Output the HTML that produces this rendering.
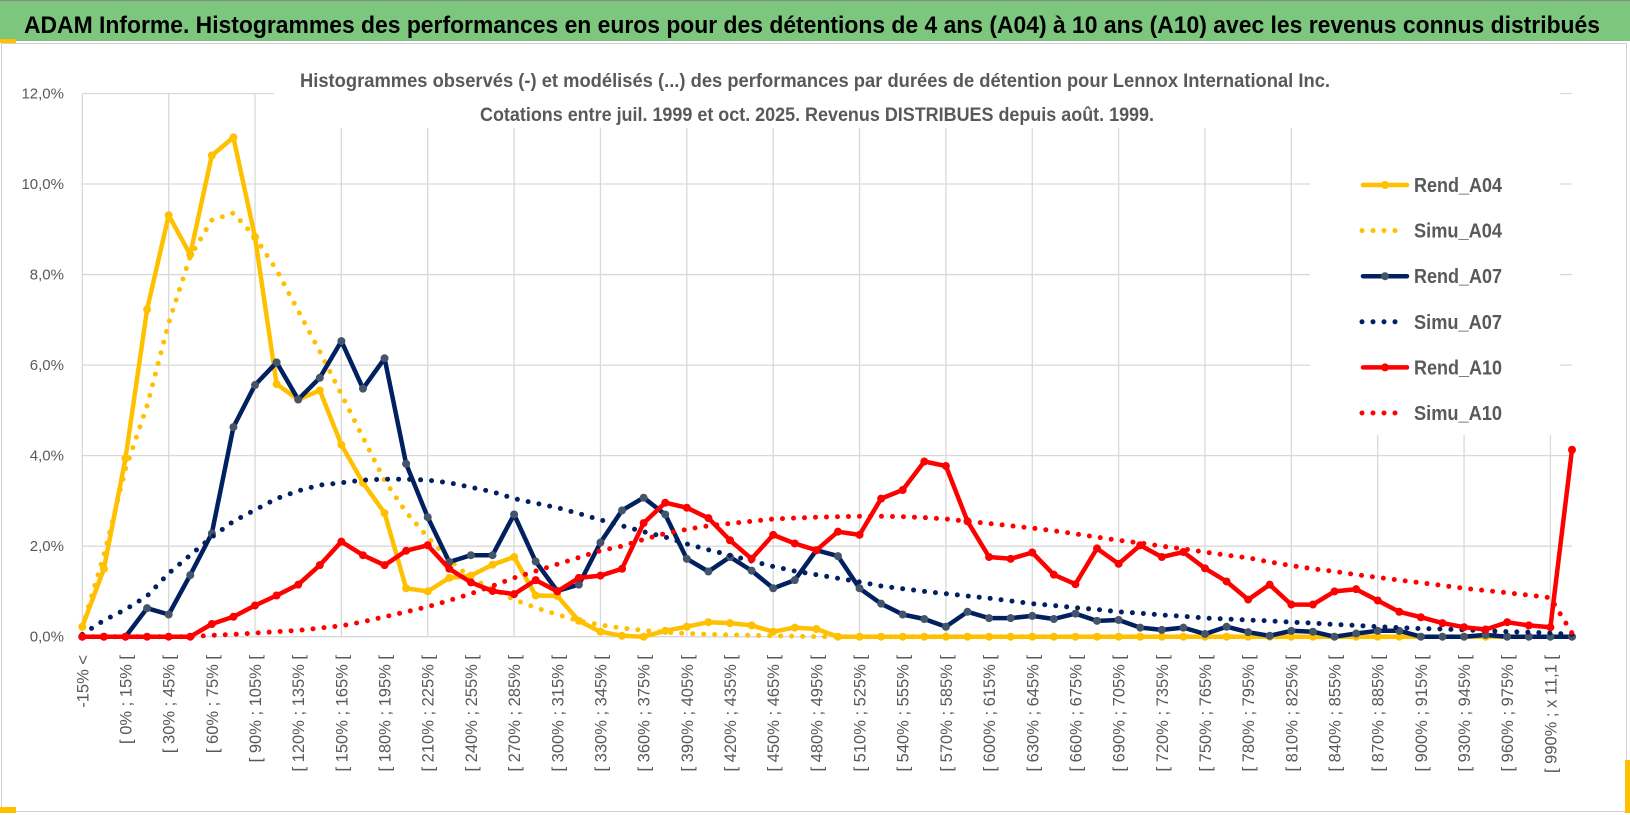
<!DOCTYPE html>
<html><head><meta charset="utf-8"><style>
html,body{margin:0;padding:0;background:#fff;}
svg{display:block;font-family:"Liberation Sans",sans-serif;}
</style></head><body>
<svg id="chart" width="1630" height="815" viewBox="0 0 1630 815" xmlns="http://www.w3.org/2000/svg">
  <rect x="0" y="0" width="1630" height="815" fill="#fff"/>
  <rect x="0" y="0" width="1630" height="41" fill="#7DC67E"/>
  <line x1="0" y1="0.5" x2="1630" y2="0.5" stroke="#8a8a8a" stroke-width="1"/>
  <rect x="0" y="39" width="16" height="4" fill="#FFC000"/>
  <text x="24" y="33" font-size="24" font-weight="bold" fill="#000" textLength="1576" lengthAdjust="spacingAndGlyphs">ADAM Informe. Histogrammes des performances en euros pour des détentions de 4 ans (A04) à 10 ans (A10) avec les revenus connus distribués</text>
  <rect x="1.5" y="43.5" width="1625" height="768" fill="none" stroke="#d0d0d0" stroke-width="1"/>
  <rect x="0" y="807" width="16" height="6" fill="#FFC000"/>
  <rect x="1625" y="760" width="5" height="53" fill="#FFC000"/>
  <g id="grid"></g>
  <rect x="274" y="50" width="1070" height="78" fill="#fff"/>
  <rect x="1310" y="85" width="250" height="350" fill="#fff"/>
  <text x="815" y="87" text-anchor="middle" font-size="19" font-weight="bold" fill="#595959" textLength="1030" lengthAdjust="spacingAndGlyphs">Histogrammes observés (-) et modélisés (...) des performances par durées de détention pour Lennox International Inc.</text>
  <text x="817" y="121" text-anchor="middle" font-size="19" font-weight="bold" fill="#595959" textLength="674" lengthAdjust="spacingAndGlyphs">Cotations entre juil. 1999 et oct. 2025. Revenus DISTRIBUES depuis août. 1999.</text>
  <g id="axes"></g>
  <g id="series"></g>
  <g id="legend"></g>
</svg>
<script>
const categoryLabels = ["-15% <","[ 0% ; 15% [","[ 30% ; 45% [","[ 60% ; 75% [","[ 90% ; 105% [","[ 120% ; 135% [","[ 150% ; 165% [","[ 180% ; 195% [","[ 210% ; 225% [","[ 240% ; 255% [","[ 270% ; 285% [","[ 300% ; 315% [","[ 330% ; 345% [","[ 360% ; 375% [","[ 390% ; 405% [","[ 420% ; 435% [","[ 450% ; 465% [","[ 480% ; 495% [","[ 510% ; 525% [","[ 540% ; 555% [","[ 570% ; 585% [","[ 600% ; 615% [","[ 630% ; 645% [","[ 660% ; 675% [","[ 690% ; 705% [","[ 720% ; 735% [","[ 750% ; 765% [","[ 780% ; 795% [","[ 810% ; 825% [","[ 840% ; 855% [","[ 870% ; 885% [","[ 900% ; 915% [","[ 930% ; 945% [","[ 960% ; 975% [","[ 990% ; x 11,1 ["];
const yTicks = [0,2,4,6,8,10,12];
const yTickLabels = ["0,0%","2,0%","4,0%","6,0%","8,0%","10,0%","12,0%"];
const rendA04 = [0.22,1.5,3.94,7.23,9.31,8.44,10.63,11.03,8.83,5.58, 5.24,5.44,4.24,3.4,2.73,1.07,1.0,1.3,1.35,1.59, 1.76,0.91,0.9,0.35,0.11,0.02,0,0.13,0.22,0.32, 0.3,0.25,0.11,0.2,0.17,0,0,0,0,0, 0,0,0,0,0,0,0,0,0,0, 0,0,0,0,0,0,0,0,0,0, 0,0,0,0,0,0,0,0,0,0];
const simuA04 = [0.2,1.8,3.7,5.1,6.93,8.4,9.2,9.36,8.83,8.1, 7.2,6.3,5.35,4.4,3.45,2.75,2.2,1.7,1.3,1.05, 0.82,0.64,0.49,0.35,0.26,0.19,0.14,0.1,0.07,0.05, 0.04,0.03,0.02,0.01,0,0,0,0,0,0, 0,0,0,0,0,0,0,0,0,0, 0,0,0,0,0,0,0,0,0,0, 0,0,0,0,0,0,0,0,0,0];
const rendA07 = [0,0,0,0.63,0.49,1.36,2.28,4.63,5.56,6.06, 5.24,5.72,6.53,5.48,6.15,3.82,2.64,1.65,1.8,1.8, 2.7,1.66,1.01,1.15,2.08,2.79,3.07,2.7,1.72,1.44, 1.76,1.46,1.07,1.25,1.91,1.78,1.07,0.73,0.49,0.39, 0.22,0.55,0.41,0.41,0.46,0.39,0.51,0.35,0.37,0.2, 0.15,0.2,0.06,0.22,0.1,0.02,0.13,0.11,0,0.07, 0.13,0.13,0,0,0,0.04,0,0,0,0];
const simuA07 = [0.05,0.36,0.6,0.9,1.4,1.8,2.2,2.55,2.8,3.05, 3.22,3.35,3.4,3.46,3.48,3.48,3.46,3.4,3.3,3.2, 3.05,2.95,2.85,2.72,2.58,2.45,2.32,2.2,2.05,1.92, 1.8,1.67,1.55,1.45,1.37,1.29,1.21,1.12,1.06,1.0, 0.95,0.9,0.85,0.79,0.73,0.69,0.64,0.6,0.55,0.52, 0.48,0.45,0.41,0.39,0.37,0.35,0.32,0.3,0.27,0.25, 0.22,0.2,0.18,0.17,0.15,0.13,0.11,0.1,0.08,0.05];
const rendA10 = [0,0,0,0,0,0,0.28,0.44,0.69,0.91, 1.15,1.58,2.1,1.8,1.58,1.9,2.02,1.5,1.2,1.01, 0.94,1.25,1.0,1.3,1.35,1.5,2.51,2.96,2.85,2.62, 2.13,1.72,2.25,2.06,1.91,2.32,2.25,3.05,3.24,3.87, 3.77,2.55,1.76,1.72,1.86,1.37,1.16,1.95,1.61,2.02, 1.76,1.87,1.51,1.22,0.82,1.15,0.71,0.71,1.0,1.05, 0.8,0.55,0.43,0.3,0.21,0.16,0.32,0.25,0.21,4.13];
const simuA10 = [0,0,0,0,0,0,0.03,0.05,0.08,0.11, 0.14,0.19,0.24,0.33,0.44,0.55,0.66,0.8,0.95,1.12, 1.3,1.45,1.6,1.75,1.9,2.0,2.15,2.28,2.37,2.45, 2.5,2.55,2.6,2.62,2.64,2.65,2.66,2.66,2.65,2.63, 2.6,2.55,2.5,2.45,2.4,2.34,2.27,2.2,2.13,2.07, 2.0,1.94,1.87,1.8,1.74,1.65,1.57,1.5,1.44,1.37, 1.31,1.25,1.19,1.13,1.07,1.02,0.97,0.92,0.86,0.08];
const seriesNames = ["Rend_A04","Simu_A04","Rend_A07","Simu_A07","Rend_A10","Simu_A10"];

const NS = "http://www.w3.org/2000/svg";
const N = rendA04.length;
const X0 = 82.3, X1 = 1572, Y0 = 636.7, Y12 = 93.5;
function xScale(i){ return X0 + (X1 - X0) * i / (N - 1); }
function yScale(v){ return Y0 - (Y0 - Y12) * v / 12; }
function mk(tag, attrs, parent){ const e = document.createElementNS(NS, tag); for (const k in attrs) e.setAttribute(k, attrs[k]); parent.appendChild(e); return e; }

const grid = document.getElementById('grid');
yTicks.forEach(function(t){
  const l = mk('line', {x1: X0, x2: X1, y1: yScale(t), y2: yScale(t), stroke: '#d9d9d9', 'stroke-width': 1.3}, grid);
  
  
});
for (let i = 0; i < N; i += 4) {
  const l = mk('line', {x1: xScale(i), x2: xScale(i), y1: Y12, y2: Y0, stroke: '#d9d9d9', 'stroke-width': 1.3}, grid);
  
  
}

const axes = document.getElementById('axes');
yTicks.forEach(function(t, k){
  const tx = mk('text', {x: 64, y: yScale(t) + 5, 'text-anchor': 'end', 'font-size': 15, fill: '#595959'}, axes);
  tx.textContent = yTickLabels[k];
  
  
});
categoryLabels.forEach(function(lab, k){
  const i = k * 2;
  const x = xScale(i) + 6, y = 655;
  const tx = mk('text', {x: x, y: y, 'text-anchor': 'end', 'font-size': 16.5, fill: '#595959', transform: 'rotate(-90 ' + x + ' ' + y + ')'}, axes);
  tx.textContent = lab;
  
  
});

const ser = document.getElementById('series');
function pts(arr){ return arr.map(function(v, i){ return xScale(i).toFixed(1) + ',' + yScale(v).toFixed(1); }).join(' '); }
function solid(arr, color, mcolor, name){
  const g = mk('g', {}, ser);
  
  
  mk('polyline', {points: pts(arr), fill: 'none', stroke: color, 'stroke-width': 4.5, 'stroke-linejoin': 'round'}, g);
  arr.forEach(function(v, i){
    const c = mk('circle', {cx: xScale(i), cy: yScale(v), r: 4, fill: mcolor}, g);
    
    
  });
}
function dotted(arr, color, name){
  const p = mk('polyline', {points: pts(arr), fill: 'none', stroke: color, 'stroke-width': 5, 'stroke-linecap': 'round', 'stroke-dasharray': '0 11'}, ser);
  
  
}
solid(rendA04, '#FFC000', '#FFC000', 'rend-a04-line');
dotted(simuA04, '#FFC000', 'simu-a04-line');
solid(rendA07, '#002060', '#44546A', 'rend-a07-line');
dotted(simuA07, '#002060', 'simu-a07-line');
solid(rendA10, '#FF0000', '#FF0000', 'rend-a10-line');
dotted(simuA10, '#FF0000', 'simu-a10-line');

const leg = document.getElementById('legend');
const legColors = ['#FFC000','#FFC000','#002060','#002060','#FF0000','#FF0000'];
const legMarkers = ['#FFC000',null,'#44546A',null,'#FF0000',null];
seriesNames.forEach(function(nm, k){
  const y = 185 + k * 45.6;
  const g = mk('g', {}, leg);
  
  
  if (k % 2 === 0) {
    mk('line', {x1: 1363, x2: 1407, y1: y, y2: y, stroke: legColors[k], 'stroke-width': 4.5, 'stroke-linecap': 'round'}, g);
    mk('circle', {cx: 1385, cy: y, r: 4, fill: legMarkers[k]}, g);
  } else {
    mk('line', {x1: 1362, x2: 1400, y1: y, y2: y, stroke: legColors[k], 'stroke-width': 5, 'stroke-linecap': 'round', 'stroke-dasharray': '0 11'}, g);
  }
  const t = mk('text', {x: 1414, y: y + 7, 'font-size': 20, 'font-weight': 'bold', fill: '#595959', textLength: 88, lengthAdjust: 'spacingAndGlyphs'}, g);
  t.textContent = nm;
});
</script>
</body></html>
